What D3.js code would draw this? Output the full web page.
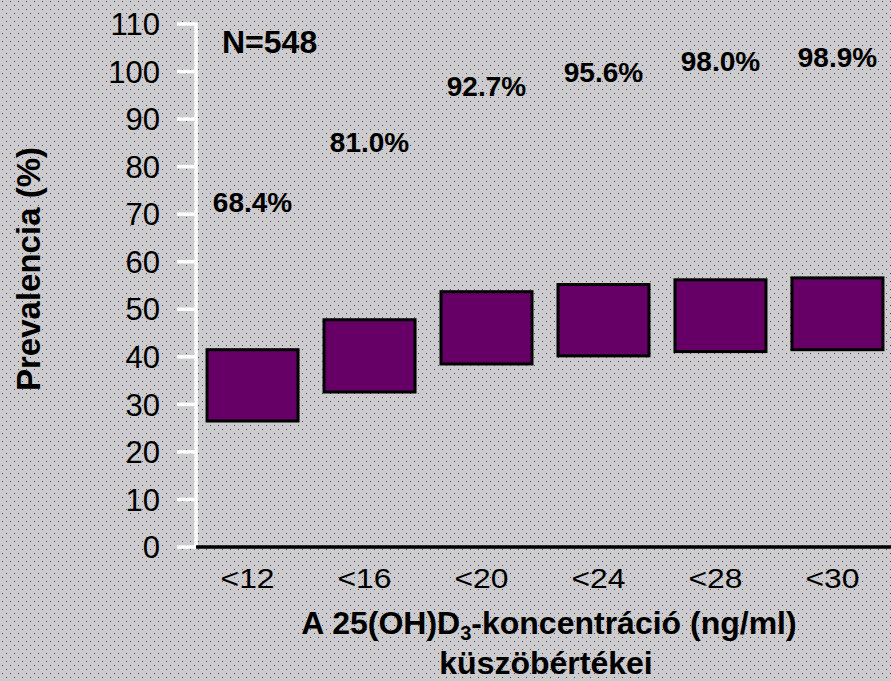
<!DOCTYPE html>
<html>
<head>
<meta charset="utf-8">
<script src="https://cdn.jsdelivr.net/npm/d3@7"></script>
<style>
  html, body { margin: 0; padding: 0; background: #cccccc; }
  svg { display: block; }
  text { font-family: Arial, "Liberation Sans", sans-serif; fill: #000; }
</style>
</head>
<body>
<svg id="chart" width="891" height="681"></svg>
<script>
// Threshold categories of 25(OH)D3 concentration (ng/ml)
const categories = ["<12", "<16", "<20", "<24", "<28", "<30"];
// Lower and upper edges of each floating box (%)
const boxLow  = [26.5, 32.6, 38.5, 40.2, 41.1, 41.5];
const boxHigh = [41.5, 47.8, 53.7, 55.2, 56.2, 56.6];
// Prevalence below each threshold (%)
const prevalence = [68.4, 81.0, 92.7, 95.6, 98.0, 98.9];
const prevalenceLabels = ["68.4%", "81.0%", "92.7%", "95.6%", "98.0%", "98.9%"];
// Y axis ticks
const yTicks = [0, 10, 20, 30, 40, 50, 60, 70, 80, 90, 100, 110];
const sampleLabel = "N=548";

const svg = d3.select("#chart");
const W = 891, H = 681;

// Dotted background
const defs = svg.append("defs");
const pat = defs.append("pattern")
  .attr("id", "dots").attr("width", 8).attr("height", 8)
  .attr("patternUnits", "userSpaceOnUse");
pat.append("rect").attr("width", 8).attr("height", 8).attr("fill", "#cccccc");
pat.append("rect").attr("x", 2).attr("y", 1).attr("width", 1).attr("height", 1).attr("fill", "#5a2a99");
pat.append("rect").attr("x", 6).attr("y", 5).attr("width", 1).attr("height", 1).attr("fill", "#5a2a99");
svg.append("rect").attr("width", W).attr("height", H).attr("fill", "url(#dots)");

const y = d3.scaleLinear().domain([0, 110]).range([547, 24]);
const x = d3.scaleBand().domain(categories).range([195, 895])
  .paddingInner(0.222).paddingOuter(0.103);

// Y axis (white)
const yAxis = svg.append("g");
yAxis.append("line")
  .attr("x1", 196).attr("x2", 196)
  .attr("y1", y(110) - 1.5).attr("y2", y(0) + 1.5)
  .attr("stroke", "#ffffff").attr("stroke-width", 3.5);
yAxis.selectAll("line.tick").data(yTicks).join("line")
  .attr("class", "tick")
  .attr("x1", 177).attr("x2", 196)
  .attr("y1", d => y(d)).attr("y2", d => y(d))
  .attr("stroke", "#ffffff").attr("stroke-width", 3.5);
yAxis.selectAll("text").data(yTicks).join("text")
  .attr("x", 160).attr("y", d => y(d)).attr("dy", "0.36em")
  .attr("text-anchor", "end")
  .style("font-size", "31px")
  .text(d => d);

// X axis (black baseline)
svg.append("line")
  .attr("x1", 196).attr("x2", W)
  .attr("y1", y(0)).attr("y2", y(0))
  .attr("stroke", "#000").attr("stroke-width", 3.5);

svg.append("g").selectAll("text").data(categories).join("text")
  .attr("x", d => x(d) + x.bandwidth() / 2 - 5)
  .attr("y", 588)
  .attr("text-anchor", "middle")
  .attr("textLength", 54).attr("lengthAdjust", "spacingAndGlyphs")
  .style("font-size", "28px")
  .text(d => d);

// Floating boxes
svg.append("g").selectAll("rect").data(categories).join("rect")
  .attr("x", d => x(d))
  .attr("y", (d, i) => y(boxHigh[i]))
  .attr("width", x.bandwidth())
  .attr("height", (d, i) => y(boxLow[i]) - y(boxHigh[i]))
  .attr("fill", "#660066")
  .attr("stroke", "#000").attr("stroke-width", 3);

// Prevalence labels
svg.append("g").selectAll("text").data(categories).join("text")
  .attr("x", d => x(d) + x.bandwidth() / 2)
  .attr("y", (d, i) => y(prevalence[i]) - 10)
  .attr("text-anchor", "middle")
  .style("font-size", "28px").style("font-weight", "bold")
  .text((d, i) => prevalenceLabels[i]);

// Sample size
svg.append("text")
  .attr("x", 222).attr("y", 53)
  .style("font-size", "32px").style("font-weight", "bold")
  .text(sampleLabel);

// Y axis title
svg.append("text")
  .attr("transform", "translate(40,269) rotate(-90)")
  .attr("text-anchor", "middle")
  .style("font-size", "33px").style("font-weight", "bold")
  .text("Prevalencia (%)");

// X axis title (two lines, with subscript)
const xt = svg.append("text")
  .attr("x", 549).attr("y", 634)
  .attr("text-anchor", "middle")
  .style("font-size", "32px").style("font-weight", "bold");
xt.append("tspan").text("A 25(OH)D");
xt.append("tspan").attr("dy", 6).style("font-size", "20px").text("3");
xt.append("tspan").attr("dy", -6).text("-koncentráció (ng/ml)");

svg.append("text")
  .attr("x", 546).attr("y", 674)
  .attr("text-anchor", "middle")
  .style("font-size", "32px").style("font-weight", "bold")
  .text("küszöbértékei");
</script>
</body>
</html>
